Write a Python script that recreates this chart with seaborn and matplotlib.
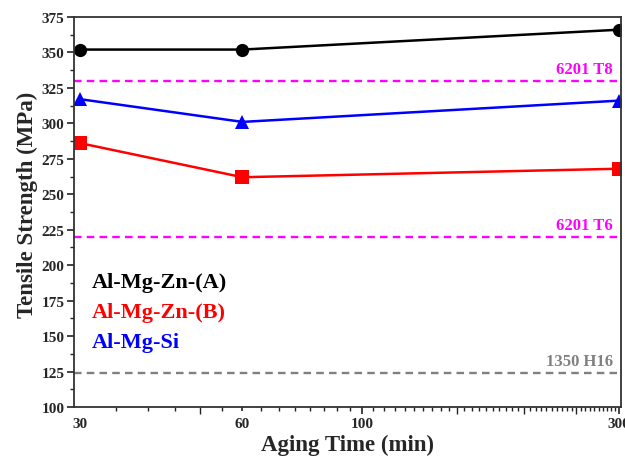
import matplotlib
matplotlib.use("Agg")
import matplotlib.pyplot as plt
from matplotlib.ticker import FixedLocator, NullFormatter
import seaborn as sns
import pandas as pd

# Aging times (min) and tensile strength (MPa) of each alloy
aging_time = [30, 60, 300]
alloys = ["Al-Mg-Zn-(A)", "Al-Mg-Zn-(B)", "Al-Mg-Si"]
strength_a = [352, 352, 366]
strength_b = [286, 262, 268]
strength_si = [317, 301, 316]

# Reference tempers for comparison
ref_names = ["6201 T8", "6201 T6", "1350 H16"]
ref_values = [330, 220, 124]
ref_colors = ["#ff00ff", "#ff00ff", "#808080"]

x_tick_values = [30, 60, 100, 300]
x_tick_labels = ["30", "60", "100", "300"]

colors = ["#000000", "#ff0000", "#0000ff"]
markers = ["o", "s", "^"]

df = pd.DataFrame({
    "time": aging_time * 3,
    "strength": strength_a + strength_b + strength_si,
    "alloy": [a for a in alloys for _ in aging_time],
})

sns.set_theme(style="white")
plt.rcParams["font.family"] = ["Liberation Serif", "DejaVu Serif"]
plt.rcParams["font.weight"] = "bold"

fig = plt.figure(figsize=(6.25, 4.6), dpi=100)
ax = fig.add_axes([0.1184, 0.113, 0.875, 0.848])

sns.lineplot(data=df, x="time", y="strength", hue="alloy", style="alloy",
             palette=colors, markers=markers, dashes=False, markersize=9.5,
             markeredgewidth=0, linewidth=1.8, ax=ax, legend=False,
             clip_on=True)

for name, val, col in zip(ref_names, ref_values, ref_colors):
    ax.axhline(val, color=col, linestyle=(0, (3.2, 2.2)), linewidth=1.7)
    ax.text(0.985, val + 3, name, transform=ax.get_yaxis_transform(),
            ha="right", va="bottom", color=col, fontsize=12,
            fontweight="bold")

ax.set_xscale("log")
ax.set_xlim(29.2, 302.5)
ax.set_ylim(100, 375)

# x ticks: labelled values plus step-of-five minor ticks
ax.xaxis.set_major_locator(FixedLocator(x_tick_values))
ax.set_xticklabels(x_tick_labels)
minor_vals = [v for v in range(35, 300, 5) if v not in x_tick_values]
ax.xaxis.set_minor_locator(FixedLocator(minor_vals))
ax.xaxis.set_minor_formatter(NullFormatter())

ax.set_yticks(range(100, 376, 25))
ax.set_yticks([100 + 12.5 * i for i in range(1, 22, 2)], minor=True)

ax.tick_params(axis="both", which="major", direction="out", length=5,
               width=1.2, color="#222222", labelsize=11, pad=2,
               bottom=True, left=True, top=False, right=False)
ax.tick_params(axis="both", which="minor", direction="out", length=3,
               width=1.0, color="#222222", bottom=True, left=True,
               top=False, right=False)

# longer ticks at the round values on the time axis
for t, v in zip(ax.xaxis.get_minor_ticks(), minor_vals):
    if v in (50, 150, 200, 250):
        t.tick1line.set_markersize(5)
for t, v in zip(ax.xaxis.get_major_ticks(), x_tick_values):
    if v == 30:
        t.tick1line.set_markersize(0)
    elif v == 60:
        t.tick1line.set_markersize(3)

for lab in ax.get_xticklabels() + ax.get_yticklabels():
    lab.set_fontweight("bold")

for s in ax.spines.values():
    s.set_color("#333333")
    s.set_linewidth(1.3)

ax.set_xlabel("Aging Time (min)", fontsize=16.5, fontweight="bold",
              labelpad=3)
ax.set_ylabel("Tensile Strength (MPa)", fontsize=16.5, fontweight="bold",
              labelpad=0)
ax.yaxis.set_label_coords(-0.066, 0.52)

# Series names written in their line colours
for i, (name, col) in enumerate(zip(alloys, colors)):
    ax.text(0.033, 0.32 - i * 0.077, name, transform=ax.transAxes,
            color=col, fontsize=16, fontweight="bold", va="center")

fig.savefig("out.png", dpi=100)
